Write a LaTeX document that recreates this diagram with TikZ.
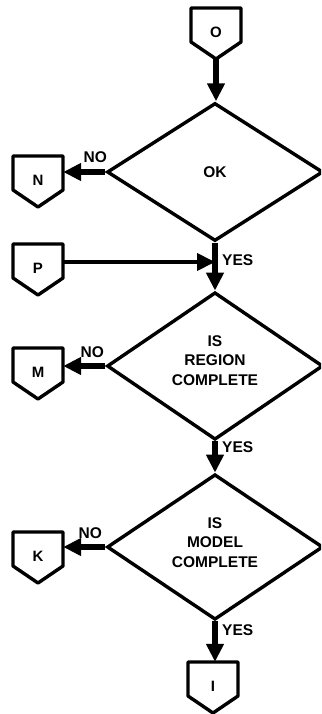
\documentclass[tikz,border=0pt]{standalone}
\usepackage{fontspec}
\setmainfont{Liberation Sans}
\usetikzlibrary{arrows.meta,shapes.geometric}
\newcommand{\offpage}[3]{%
  \node[conn] (#1) at (#2) {#3};
  \draw[shapeline] ([shift={(-25pt,24pt)}]#1.center) -- ++(50,0) -- ++(0,34) -- ++(-25,17) -- ++(-25,-17) -- cycle;
}
\tikzset{
  shapeline/.style={line width=3.4pt, line join=round},
  conn/.style={minimum width=50pt, minimum height=48pt, inner sep=0pt, font=\fontsize{15}{17}\selectfont\bfseries},
  decision/.style={diamond, draw, line width=3.4pt, minimum width=216pt, minimum height=138pt, inner sep=0pt, align=center, font=\fontsize{15.5}{19.5}\selectfont\bfseries},
  flow/.style={line width=5.5pt, -{Triangle[length=18pt,width=17pt]}},
  thinflow/.style={line width=4pt, -{Triangle[length=18pt,width=17pt]}},
  lbl/.style={inner sep=0pt, font=\fontsize{15.5}{18}\selectfont\bfseries},
}
\begin{document}
\begin{tikzpicture}[x=1pt,y=-1pt]
\useasboundingbox (0,0) rectangle (321,714);
\clip (0,0) rectangle (321,714);
\fill[white] (0,0) rectangle (321,714);
% decisions
\node[decision] (d1) at (215,172) {OK};
\node[decision] (d2) at (215,366) {IS\\REGION\\COMPLETE\\[-8pt]~};
\node[decision] (d3) at (215,547) {IS\\MODEL\\COMPLETE\\[-10pt]~};
% connectors
\offpage{O}{216,32}{O}
\offpage{N}{38,180}{N}
\offpage{P}{38,268}{P}
\offpage{M}{38,372}{M}
\offpage{K}{38,556}{K}
\offpage{I}{213,686}{I}
\coordinate (Otip) at ([yshift=-27pt]O.center);
\coordinate (Pout) at ([yshift=6pt]P.east);
\coordinate (join) at (d1.south |- Pout);
% flow lines
\draw[flow] (Otip) -- (Otip |- d1.north);
\draw[flow] (d1.west) -- (d1.west -| N.east);
\draw[flow] (d1.south) -- (d2.north);
\draw[thinflow] (Pout) -- (join);
\draw[flow] (d2.west) -- (d2.west -| M.east);
\draw[flow] (d2.south) -- (d3.north);
\draw[flow] (d3.west) -- (d3.west -| K.east);
\draw[flow] (d3.south) -- (d3.south |- I.north);
% labels
\node[lbl] (no1) at ([xshift=-10pt,yshift=15pt]d1.west) {NO};
\node[lbl] (no2) at ([xshift=-13pt,yshift=14pt]d2.west) {NO};
\node[lbl] (no3) at ([xshift=-15pt,yshift=14pt]d3.west) {NO};
\node[lbl,anchor=west] (yes1) at (222,260) {YES};
\node[lbl,anchor=west] (yes2) at (222,447) {YES};
\node[lbl,anchor=west] (yes3) at (222,630) {YES};
\end{tikzpicture}
\end{document}
